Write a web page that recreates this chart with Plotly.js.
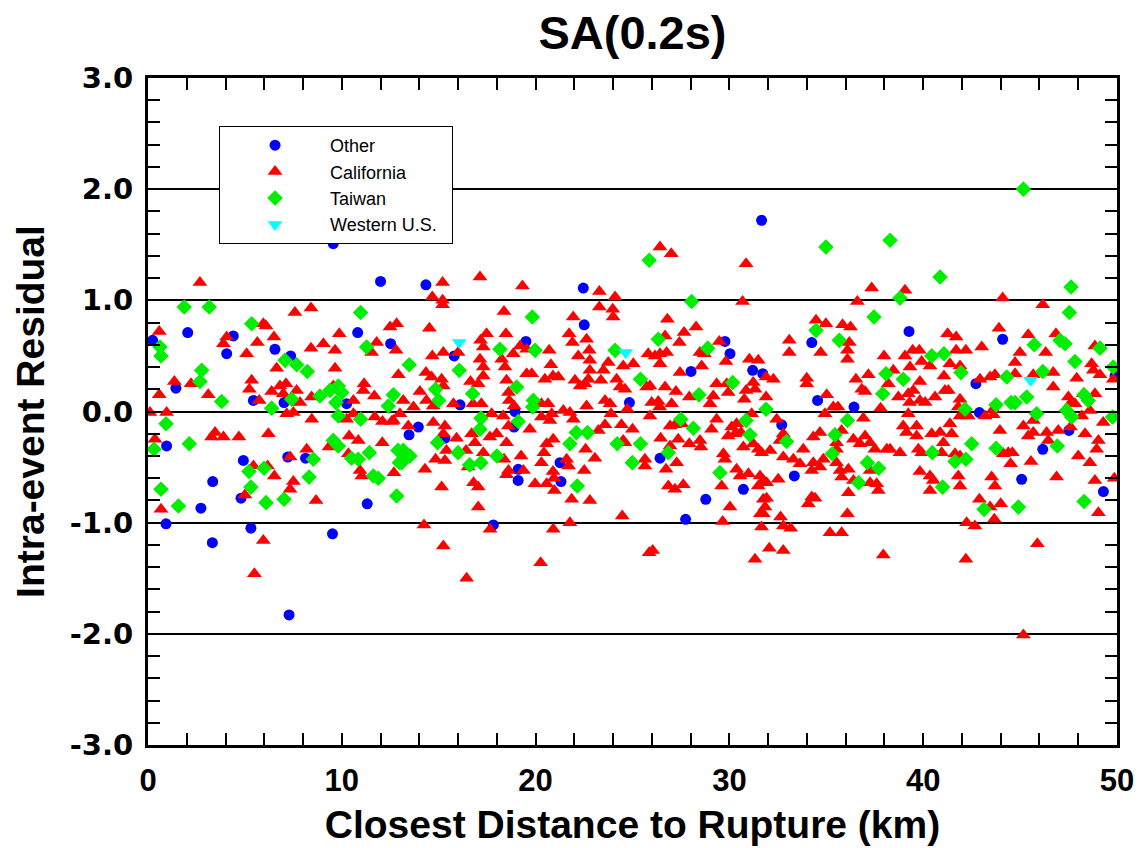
<!DOCTYPE html>
<html>
<head>
<meta charset="utf-8">
<script src="https://cdn.plot.ly/plotly-3.0.1.min.js"></script>
<style>html,body{margin:0;padding:0;background:#fff;}#chart{width:1143px;height:848px;}</style>
</head>
<body>
<div id="chart"></div>
<script>
// Other (blue circles)
const otherX = [9.56,12.0,2.05,0.24,4.4,4.06,6.55,7.36,10.82,12.52,1.44,5.44,7.02,10.25,
  0.96,4.92,3.34,4.80,7.21,8.13,2.73,0.93,5.31,3.32,7.28,9.52,11.31,
  14.34,22.46,22.51,19.5,15.8,16.1,24.84,
  13.95,13.47,15.32,18.89,18.94,19.1,19.1,21.26,21.31,17.82,
  31.66,29.77,30.03,34.25,28.02,31.2,31.72,34.55,36.43,
  26.42,32.7,30.72,33.35,28.78,27.74,
  39.27,44.1,42.72,49.9,42.9,
  46.17,47.52,45.08,49.3];
const otherY = [1.51,1.17,0.71,0.64,0.68,0.52,0.56,0.50,0.71,0.61,0.21,0.10,0.08,0.07,
  -0.31,-0.44,-0.63,-0.78,-0.41,-0.42,-0.87,-1.01,-1.05,-1.18,-1.83,-1.10,-0.83,
  1.14,1.11,0.78,0.63,0.50,0.06,0.08,
  -0.14,-0.21,-0.24,-0.14,0.0,-0.52,-0.62,-0.46,-0.63,-1.02,
  1.72,0.63,0.52,0.62,0.36,0.37,0.34,0.10,0.04,
  -0.42,-0.12,-0.70,-0.58,-0.79,-0.97,
  0.72,0.65,0.25,0.32,-0.01,
  -0.34,-0.17,-0.61,-0.72];

// California (red triangles)
const caliX = [2.68,7.58,8.41,0.58,5.95,6.09,4.06,3.89,5.64,6.50,5.09,8.41,9.05,9.87,9.65,11.8,11.54,12.49,12.83,12.8,6.64,9.65,1.36,2.22,0.58,3.11,5.35,5.23,5.74,6.38,6.81,7.12,6.98,7.67,7.84,8.44,11.15,11.11,11.68,10.6,0.10,0.96,7.16,7.5,9.56,
  0.36,3.46,3.28,3.89,4.69,6.21,5.44,6.17,6.52,5.0,7.33,7.5,7.33,8.19,8.67,0.67,5.95,5.49,9.34,10.38,10.85,10.34,10.94,11.03,12.09,12.69,10.25,10.6,11.7,12.1,12.57,8.45,
  15.2,17.13,19.32,23.29,24.1,14.67,15.2,15.2,23.29,23.98,24.0,18.37,21.94,14.52,17.47,18.47,21.73,21.9,22.63,17.16,17.3,19.2,19.54,16.0,20.7,22.77,22.8,22.2,14.67,15.24,17.13,17.3,18.25,18.42,18.85,20.79,23.75,23.5,25.04,24.52,22.8,12.92,14.34,14.63,15.15,15.24,16.64,17.04,17.3,18.5,19.54,19.8,20.48,20.9,21.17,22.03,22.3,22.55,22.72,23.37,24.18,24.36,24.61,25.73,14.03,13.17,14.37,14.72,17.2,15.76,18.6,18.64,18.89,20.3,22.63,23.58,23.84,24.73,13.7,21.43,
  13.0,13.43,12.66,14.29,14.72,15.32,15.24,15.92,15.4,14.84,15.32,16.41,16.7,16.87,17.3,16.52,15.15,16.8,17.04,17.04,17.64,17.99,18.5,17.73,18.33,18.6,18.37,19.25,18.6,18.5,19.37,19.7,20.3,20.74,20.83,20.57,20.43,20.3,20.91,19.97,20.57,20.97,20.9,20.95,21.6,21.7,22.51,21.86,22.8,21.77,21.95,22.58,23.06,23.89,23.58,23.24,24.43,25.0,24.52,24.6,25.64,25.64,24.47,14.24,17.65,20.91,21.77,15.24,20.26,16.44,25.86,16.77,20.64,
  26.42,27.0,30.86,37.34,30.68,36.6,26.8,28.28,34.47,34.98,35.84,36.25,27.66,26.68,27.42,29.48,28.48,28.7,25.81,26.16,26.42,26.76,26.42,29.82,31.03,31.49,33.09,33.09,34.71,36.19,36.09,36.09,37.98,28.57,27.45,31.89,32.27,29.34,29.86,29.94,31.23,31.32,30.86,30.77,31.89,33.99,33.99,36.53,37.17,36.83,37.0,38.2,25.9,26.68,27.24,27.93,29.17,29.0,25.99,26.33,27.02,26.4,35.02,35.36,35.6,37.8,
  25.9,26.94,27.2,27.54,26.45,26.94,27.36,27.93,28.48,28.53,27.28,26.73,26.85,27.19,27.62,29.34,29.08,30.12,30.37,29.94,30.29,30.6,31.15,30.72,31.23,31.49,31.66,32.1,29.69,29.77,32.44,32.78,32.61,32.78,33.3,33.64,33.81,34.33,34.67,34.93,36.91,35.79,35.53,35.53,36.4,36.74,37.0,37.26,37.51,38.12,34.33,34.85,34.25,34.67,35.53,35.71,36.14,35.79,36.4,36.14,37.26,37.26,37.6,37.68,36.09,29.6,30.37,30.55,30.98,31.58,31.75,31.49,31.92,32.52,31.75,31.92,31.84,31.6,31.75,34.25,34.42,34.07,30.03,29.65,31.66,32.64,32.78,33.16,35.19,35.79,26.04,32.06,32.78,31.32,37.94,
  39.06,44.1,46.17,43.91,41.26,41.7,42.2,41.7,43.02,45.42,46.32,44.99,46.85,48.86,39.06,39.46,39.8,39.92,40.35,39.32,41.38,41.9,44.74,44.74,48.69,48.78,49.12,49.81,47.92,38.46,39.83,38.72,39.23,39.49,41.07,41.12,41.3,40.61,41.9,41.81,39.83,40.1,39.3,43.45,43.7,42.93,45.68,46.71,46.71,47.49,47.58,47.83,48.26,48.86,48.6,
  39.23,42.33,43.19,43.62,43.62,41.9,48.18,49.29,38.97,39.14,39.66,39.66,40.44,40.87,41.38,41.47,41.04,38.29,38.8,39.75,39.92,40.95,41.64,41.9,43.96,44.14,44.39,44.6,44.51,45.17,45.42,45.68,45.68,45.56,46.37,46.45,46.97,47.6,48.35,49.04,48.95,48.0,48.6,39.83,40.35,40.52,40.35,41.81,41.9,43.53,43.7,46.88,48.86,49.86,49.04,42.9,43.45,44.0,43.67,42.24,42.67,45.89,42.2,45.17];
const caliY = [1.16,0.89,0.93,0.72,0.79,0.77,0.67,0.61,0.62,0.67,0.52,0.57,0.61,0.70,0.55,0.62,0.53,0.76,0.79,0.55,0.39,0.39,0.27,0.25,0.15,0.15,0.28,0.20,0.10,0.18,0.23,0.25,0.16,0.19,0.08,0.13,0.25,0.19,0.14,0.10,-0.01,-0.01,-0.02,-0.01,0.23,
  -0.25,-0.19,-0.23,-0.23,-0.23,-0.20,-0.49,-0.49,-0.58,-0.75,-0.70,-0.63,-0.41,-0.34,-0.80,-0.88,-1.16,-1.46,-0.32,-0.22,-0.26,-0.38,-0.53,-0.58,-0.28,-0.55,-0.07,-0.02,-0.05,-0.09,-0.09,-0.07,
  1.16,1.21,1.13,1.08,1.03,1.03,1.0,0.96,0.94,0.92,0.85,0.90,0.85,0.75,0.70,0.70,0.70,0.62,0.65,0.64,0.58,0.59,0.56,0.53,0.55,0.55,0.46,0.50,0.50,0.53,0.47,0.40,0.47,0.40,0.52,0.42,0.44,0.37,0.43,0.41,0.37,0.33,0.35,0.31,0.29,0.23,0.27,0.25,0.32,0.28,0.34,0.34,0.29,0.32,0.31,0.28,0.23,0.25,0.29,0.28,0.29,0.22,0.20,0.22,0.18,0.10,0.10,0.05,0.07,0.07,0.17,0.10,0.05,0.07,0.05,0.10,0.07,0.02,0.04,0.01,
  -0.02,-0.13,-0.08,-0.52,-0.10,-0.13,-0.20,-0.24,-0.35,-0.43,-0.44,-0.35,-0.20,-0.28,-0.37,-0.50,-0.68,-0.64,-0.68,-0.86,-0.23,-0.20,-0.28,-0.02,-0.04,-0.13,-0.43,-0.40,-0.53,-0.57,-0.53,-0.16,-0.05,-0.08,-0.02,-0.29,-0.37,-0.46,-0.25,-0.65,-0.65,-0.71,-0.54,-0.60,-0.43,-0.49,-0.53,-0.79,-0.80,-0.01,-0.07,-0.34,-0.42,-0.02,-0.12,-0.17,-0.12,-0.16,-0.26,-0.28,-0.43,-0.49,-0.94,-1.02,-1.06,-1.06,-1.0,-1.21,-1.36,-1.50,-1.27,0.07,0.07,
  1.48,1.42,1.33,1.11,0.99,0.99,0.83,0.76,0.82,0.79,0.78,0.76,0.71,0.68,0.62,0.63,0.53,0.52,0.52,0.50,0.52,0.53,0.43,0.45,0.47,0.46,0.64,0.53,0.53,0.62,0.55,0.47,0.50,0.41,0.35,0.31,0.29,0.25,0.25,0.17,0.26,0.20,0.19,0.11,0.13,0.30,0.25,0.29,0.33,0.20,0.18,0.25,0.23,0.22,0.18,0.13,0.14,0.07,0.08,0.09,0.07,0.04,0.15,0.04,0.04,0.03,
  -0.04,-0.13,-0.12,-0.11,-0.24,-0.31,-0.25,-0.29,-0.26,-0.32,-0.46,-0.52,-0.67,-0.70,-0.66,-0.07,-0.16,-0.14,-0.11,-0.22,-0.20,-0.19,-0.02,-0.32,-0.29,-0.34,-0.37,-0.35,-0.38,-0.43,-0.07,-0.20,-0.26,-0.41,-0.43,-0.47,-0.34,-0.23,-0.19,-0.02,-0.06,-0.17,-0.28,-0.34,-0.25,-0.29,-0.22,-0.28,-0.34,-0.34,-0.46,-0.43,-0.53,-0.50,-0.46,-0.53,-0.52,-0.59,-0.62,-0.73,-0.53,-0.64,-0.65,-0.71,-0.92,-0.67,-0.52,-0.58,-0.56,-0.58,-0.62,-0.67,-0.64,-0.61,-0.79,-0.78,-0.86,-0.92,-0.92,-0.77,-0.78,-0.83,-0.86,-0.99,-1.04,-0.95,-1.03,-1.05,-1.09,-1.09,-1.25,-1.23,-1.25,-1.33,-1.29,
  1.09,1.02,0.96,0.75,0.70,0.67,0.55,0.55,0.58,0.69,0.53,0.53,0.70,0.59,0.50,0.55,0.55,0.45,0.41,0.40,0.43,0.41,0.44,0.34,0.43,0.37,0.33,0.29,0.30,0.37,0.27,0.13,0.16,0.19,0.32,0.19,0.19,0.13,0.11,0.04,0.10,0.08,0.08,0.31,0.33,0.29,0.33,0.35,0.22,0.13,0.07,0.07,0.16,0.16,0.01,
  -0.02,-0.04,-0.04,-0.03,0.02,-0.04,-0.04,-0.10,-0.13,-0.19,-0.13,-0.22,-0.20,-0.19,-0.11,-0.20,-0.28,-0.34,-0.37,-0.34,-0.37,-0.37,-0.38,-0.40,-0.17,-0.38,-0.37,-0.37,-0.47,-0.13,-0.22,-0.19,-0.08,-0.45,-0.19,-0.26,-0.17,-0.14,-0.20,-0.26,-0.34,-0.40,-0.46,-0.54,-0.58,-0.62,-0.71,-0.58,-0.67,-0.59,-0.67,-0.59,-0.62,-0.60,-0.91,-0.79,-0.86,-0.83,-0.97,-1.0,-1.03,-1.19,-1.33,-2.01];

// Taiwan (green diamonds)
const taiwanX = [1.87,3.16,10.97,5.35,0.62,0.67,11.28,7.07,7.67,8.22,2.77,2.68,3.80,7.41,8.87,9.39,9.82,10.0,9.70,12.66,12.4,
  0.93,0.31,2.13,5.21,5.99,0.67,5.31,6.09,7.02,8.53,8.31,1.57,9.56,9.82,10.5,10.85,11.42,11.63,11.88,12.9,12.97,12.83,9.82,10.97,6.38,
  25.86,19.83,24.1,18.16,19.97,13.48,16.06,19.02,25.41,14.84,15.0,16.75,19.88,19.85,
  13.17,13.52,13.09,14.94,16.0,16.6,17.18,17.18,19.1,17.13,18.0,22.15,21.77,22.1,22.68,24.21,25.41,24.99,
  34.98,38.29,28.05,37.46,34.47,26.33,28.88,35.67,30.17,38.08,37.91,28.43,31.89,
  27.49,28.14,26.85,30.86,31.06,32.95,36.09,35.45,35.31,37.12,37.7,36.67,29.51,
  45.17,40.87,38.8,47.63,47.54,45.73,47.06,47.32,49.12,40.44,41.07,41.95,47.83,49.81,38.97,44.31,46.17,45.34,44.53,44.74,43.76,42.16,48.3,48.52,47.4,47.66,45.85,49.77,
  40.47,41.64,42.2,42.5,43.76,46.92,41.0,48.3,43.14,44.91];
const taiwanY = [0.94,0.94,0.89,0.79,0.58,0.50,0.58,0.46,0.42,0.36,0.37,0.27,0.09,0.11,0.14,0.19,0.23,0.17,0.08,0.15,0.05,
  -0.11,-0.34,-0.29,-0.54,-0.51,-0.70,-0.68,-0.82,-0.79,-0.43,-0.59,-0.85,-0.26,-0.31,-0.42,-0.43,-0.37,-0.58,-0.60,-0.35,-0.46,-0.76,-0.04,-0.07,0.03,
  1.36,0.85,0.55,0.56,0.55,0.42,0.37,0.22,0.29,0.20,0.10,0.16,0.10,0.04,
  -0.35,-0.40,-0.46,-0.28,-0.37,-0.48,-0.46,-0.06,-0.09,-0.16,-0.40,-0.67,-0.29,-0.19,-0.19,-0.29,-0.29,-0.46,
  1.48,1.54,0.99,0.85,0.73,0.65,0.57,0.64,0.26,0.34,0.16,0.15,0.02,
  -0.07,-0.15,-0.37,-0.08,-0.21,-0.27,-0.08,-0.21,-0.38,-0.46,-0.51,-0.64,-0.55,
  2.0,1.21,1.02,1.12,0.89,0.60,0.64,0.61,0.57,0.50,0.52,0.35,0.45,0.40,0.29,0.31,0.36,0.13,0.08,0.08,0.06,0.02,0.15,0.10,0.01,-0.05,-0.02,-0.05,
  -0.37,-0.45,-0.43,-0.29,-0.33,-0.31,-0.68,-0.81,-0.88,-0.86];

// Western U.S. (cyan inverted triangles)
const westX = [16.06,24.65,45.54];
const westY = [0.62,0.53,0.28];

const groupNames = ['Other','California','Taiwan','Western U.S.\u00a0\u00a0'];
const xTickVals = [0,10,20,30,40,50];
const yTickVals = [-3,-2,-1,0,1,2,3];
const yTickText = ['-3.0','-2.0','-1.0','0.0','1.0','2.0','3.0'];

const traces = [
  {x: otherX, y: otherY, name: groupNames[0], type:'scatter', mode:'markers',
   marker:{symbol:'circle', color:'#0000ff', size:11}},
  {x: caliX, y: caliY, name: groupNames[1], type:'scatter', mode:'markers',
   marker:{symbol:'triangle-up', color:'#ff0000', size:13}},
  {x: taiwanX, y: taiwanY, name: groupNames[2], type:'scatter', mode:'markers',
   marker:{symbol:'diamond', color:'#00ee00', size:12}},
  {x: westX, y: westY, name: groupNames[3], type:'scatter', mode:'markers',
   marker:{symbol:'triangle-down', color:'#00ffff', size:13}}
];

const sans = 'Liberation Sans, Arial, sans-serif';
const layout = {
  width:1143, height:848,
  margin:{l:148, r:26, t:78, b:103},
  paper_bgcolor:'#ffffff', plot_bgcolor:'#ffffff',
  showlegend:true,
  title:{text:'SA(0.2s)', x:0.5, xref:'paper', xanchor:'center', y:0.962, yref:'container', yanchor:'middle',
    font:{family:sans, size:47, color:'#000', weight:'bold'}},
  xaxis:{range:[0,50], tickvals:xTickVals, ticktext:xTickVals.map(String),
    ticks:'inside', ticklen:12, tickwidth:2, tickcolor:'#000',
    showline:true, linewidth:3, linecolor:'#000', mirror:'allticks',
    showgrid:false, zeroline:false,
    minor:{dtick:2, ticks:'inside', ticklen:12, tickwidth:2, tickcolor:'#000', showgrid:false},
    ticklabelstandoff:6,
    tickfont:{family:sans, size:31, color:'#000', weight:'bold'},
    title:{text:'Closest Distance to Rupture (km)', standoff:14,
      font:{family:sans, size:39, color:'#000', weight:'bold'}}},
  yaxis:{range:[-3,3], tickvals:yTickVals, ticktext:yTickText,
    ticks:'inside', ticklen:12, tickwidth:2, tickcolor:'#000',
    showline:true, linewidth:3, linecolor:'#000', mirror:'allticks',
    showgrid:true, gridcolor:'#000', gridwidth:2, zeroline:false,
    minor:{dtick:0.2, ticks:'inside', ticklen:12, tickwidth:2, tickcolor:'#000', showgrid:false},
    ticklabelstandoff:6,
    tickfont:{family:'DejaVu Sans, sans-serif', size:29, color:'#000', weight:'bold'},
    title:{text:'Intra-event Residual', standoff:14,
      font:{family:sans, size:39, color:'#000', weight:'bold'}}},
  legend:{x:0.0733, y:0.928, xanchor:'left', yanchor:'top', bgcolor:'#ffffff',
    bordercolor:'#000', borderwidth:1, itemwidth:100,
    font:{family:sans, size:18, color:'#000'},
    tracegroupgap:0}
};

Plotly.newPlot('chart', traces, layout, {displayModeBar:false, staticPlot:true});
</script>
</body>
</html>
